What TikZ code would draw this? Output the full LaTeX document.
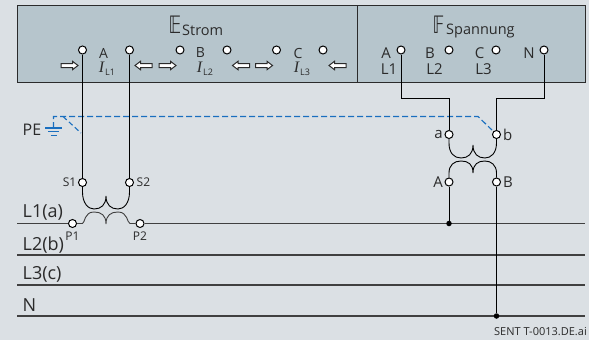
\documentclass[tikz,border=0pt]{standalone}
\usepackage{graphicx}
\usepackage{fontspec}
\setmainfont{Open Sans}
\newfontfamily\dsfont{DejaVu Sans}
\newfontfamily\ifont{Liberation Serif}
\definecolor{bgc}{HTML}{DBE0E4}
\definecolor{boxc}{HTML}{B6C5CC}
\definecolor{ink}{HTML}{2B2B2B}
\definecolor{pe}{HTML}{1A6FBF}
\tikzset{
 x=1pt,y=-1pt,
 term/.style={circle,draw=black,fill=white,line width=1pt,minimum size=8pt,inner sep=0pt},
 wire/.style={draw=black,line width=1pt},
 bus/.style={draw=ink!90,line width=1.2pt},
 txt/.style={text=ink,font=\fontsize{15}{16}\selectfont,inner sep=0pt},
 small/.style={text=ink,font=\fontsize{12}{13}\selectfont,inner sep=0pt},
 sub/.style={text=ink,font=\fontsize{9}{10}\selectfont,inner sep=0pt},
 cur/.style={text=ink,font=\fontsize{16}{16}\ifont\itshape,inner sep=0pt},
 dot/.style={circle,fill=black,minimum size=5.5pt,inner sep=0pt},
 pedash/.style={draw=pe,line width=1.1pt,dash pattern=on 6pt off 3pt},
 pesolid/.style={draw=pe,line width=1.1pt},
 flow/.style={draw=ink,fill=white,line width=1pt,line join=miter},
 rightflow/.pic={\path[flow] (-8.5,-2)--(3,-2)--(3,-4.2)--(8.5,0)--(3,4.2)--(3,2)--(-8.5,2)--cycle;},
 leftflow/.pic={\path[flow] (8.5,-2)--(-3,-2)--(-3,-4.2)--(-8.5,0)--(-3,4.2)--(-3,2)--(8.5,2)--cycle;}
}
\begin{document}
\begin{tikzpicture}
\useasboundingbox (0,0) rectangle (589,340);
\fill[bgc] (0,0) rectangle (589,340);
\draw[draw=ink,fill=boxc,line width=0.9pt] (17,5) rectangle (585,82);
\draw[draw=ink,line width=0.9pt] (357,5) -- (357,82);

% bus bars
\coordinate (l1a) at (17,223.5); \coordinate (l1b) at (585,223.5);
\coordinate (l2a) at (17,255); \coordinate (l2b) at (585,255);
\coordinate (l3a) at (17,285); \coordinate (l3b) at (585,285);
\coordinate (na) at (17,316); \coordinate (nb) at (585,316);
\node[term] (P1) at (72.5,223.5) {};
\node[term] (P2) at (140,223.5) {};
\coordinate (pc1) at (82.5,223.5);
\coordinate (pc2) at (130,223.5);
\path[bus] (l1a) -- (P1);
\path[bus] (P2) -- (l1b);
\path[bus,line width=1.5pt] (l2a) -- (l2b);
\path[bus] (l3a) -- (l3b);
\path[bus] (na) -- (nb);

% PE dashed
\coordinate (g) at (53.5,128);
\coordinate (pec) at (478,116.5);
\coordinate (pee) at (492,130);
\path[pedash] (g) -- (53.5,116.5) -- (pec) -- (pee);
\path[pedash,dash pattern=on 5pt off 3pt] (63,116.5) -- (81,133);
\path[pesolid] (45,128) -- (62,128);
\path[pesolid] (48,131.7) -- (59,131.7);
\path[pesolid] (50.5,135.3) -- (56.5,135.3);

% terminals
\foreach \n/\x in {a1/82.5,a2/129.5,b1/180,b2/227,c1/276.5,c2/323,vA/401,vB/449,vC/496,vN/544}
  \node[term] (\n) at (\x,50) {};
\node[term] (a) at (449,134.5) {};
\node[term] (b) at (496.5,134.5) {};
\node[term] (A) at (449,182) {};
\node[term] (B) at (496.5,182) {};
\node[term] (S1) at (82.5,182.5) {};
\node[term] (S2) at (129.5,182.5) {};

% wires
\coordinate (m1) at (449,98);
\coordinate (m2) at (496.5,98);
\path[wire] (a1) -- (S1);
\path[wire] (a2) -- (S2);
\path[wire] (vA) |- (m1) -- (a);
\path[wire] (vN) |- (m2) -- (b);
\node[dot] (d1) at (449,223.5) {};
\node[dot] (d2) at (496.5,316) {};
\path[wire] (A) -- (d1);
\path[wire] (B) -- (d2);

% CT coils
\path[wire,line width=0.9pt] (S1) -- (82.5,192) .. controls (82.5,203) and (88,209) .. (94,209) .. controls (101,209) and (106,205) .. (106,196)
   .. controls (106,205) and (111,209) .. (118,209) .. controls (124,209) and (129.5,203) .. (129.5,192) -- (S2);
\path[bus,line width=0.9pt] (P1) -- (pc1) .. controls (85,223) and (84,212) .. (94,212) .. controls (101,212) and (106,215) .. (106,224)
   .. controls (106,215) and (111,212) .. (118,212) .. controls (128,212) and (127,223) .. (pc2) -- (P2);
% VT coils
\path[wire,line width=0.9pt] (a) -- (449,143) .. controls (449,153) and (454,158) .. (461,158) .. controls (468,158) and (473,154) .. (473,145)
   .. controls (473,154) and (478,158) .. (485,158) .. controls (491,158) and (496.5,153) .. (496.5,143) -- (b);
\path[wire,line width=0.9pt] (A) -- (449,173) .. controls (449,165) and (454,161) .. (461,161) .. controls (468,161) and (473,164) .. (473,173)
   .. controls (473,164) and (478,161) .. (485,161) .. controls (491,161) and (496.5,165) .. (496.5,173) -- (B);

% arrows
\foreach \x in {69.5,167.5,264} \pic at (\x,65.5) {rightflow};
\foreach \x in {143.5,241,337.5} \pic at (\x,65.5) {leftflow};

% header labels
\node[text=ink,font=\dsfont\fontsize{24}{24}\selectfont,inner sep=0pt] (E) at (175,25) {\scalebox{0.72}[1]{𝔼}};
\node[txt,font=\fontsize{14.5}{15}\selectfont,anchor=west] (Es) at (182,30.5) {Strom};
\node[text=ink,font=\dsfont\fontsize{24}{24}\selectfont,inner sep=0pt] (F) at (438.5,25) {\scalebox{0.72}[1]{𝔽}};
\node[txt,font=\fontsize{14.5}{15}\selectfont,anchor=west] (Fs) at (446,30.5) {Spannung};

% current labels
\foreach \n/\lab/\x in {la/A/103.5,lb/B/200.5,lc/C/298}
  \node[txt,font=\fontsize{14}{15}\selectfont] (\n) at (\x,53) {\lab};
\foreach \n/\x/\s in {ia/101.5/L1,ib/199.5/L2,ic/296.5/L3}{
  \node[cur] (\n) at (\x,67.5) {I};
  \node[sub,anchor=west] (\n s) at (\x+3.5,72.5) {\s};
}
% voltage labels
\foreach \n/\lab/\x in {va/A/386,vb/B/430,vc/C/479.5,vn/N/529}
  \node[txt] (\n) at (\x,53) {\lab};
\foreach \n/\lab/\x in {wa/L1/389,wb/L2/434.5,wc/L3/483.5}
  \node[txt] (\n) at (\x,69) {\lab};

% other labels
\node[txt,anchor=west,font=\fontsize{16}{17}\selectfont] (pel) at (22.5,129.5) {PE};
\node[small,anchor=east] at (76.5,182.5) (s1l) {S1};
\node[small,anchor=west] at (136.5,182.5) (s2l) {S2};
\node[small,anchor=center] at (72.5,236.5) (p1l) {P1};
\node[small,anchor=center] at (140,236.5) (p2l) {P2};
\node[txt,anchor=east] at (443,134) (al) {a};
\node[txt,anchor=west] at (503,134.5) (bl) {b};
\node[txt,anchor=east] at (443,182) (Al) {A};
\node[txt,anchor=west] at (503,182) (Bl) {B};
\node[txt,anchor=west,font=\fontsize{18}{19}\selectfont] at (22.5,212) (n1) {L1(a)};
\node[txt,anchor=west,font=\fontsize{18}{19}\selectfont] at (22.5,245) (n2) {L2(b)};
\node[txt,anchor=west,font=\fontsize{18}{19}\selectfont] at (22.5,274) (n3) {L3(c)};
\node[txt,anchor=west,font=\fontsize{18}{19}\selectfont] at (22.5,305) (n4) {N};
\node[txt,anchor=east,font=\fontsize{11}{12}\selectfont] at (587,332) (ref) {SENT T-0013.DE.ai};
\end{tikzpicture}
\end{document}
